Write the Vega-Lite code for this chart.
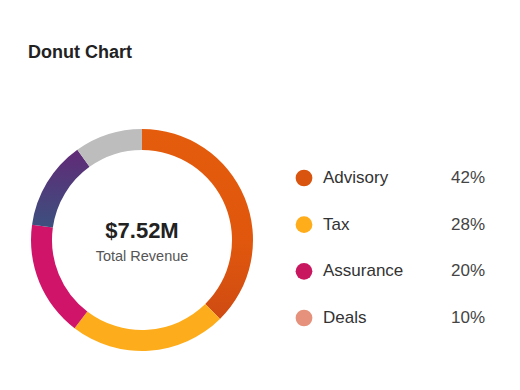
{
  "$schema": "https://vega.github.io/schema/vega-lite/v6.json",
  "background": "white",
  "padding": {"left": 28, "top": 44, "right": 0, "bottom": 0},
  "title": {"text": "Donut Chart", "anchor": "start", "fontSize": 18, "font": "Liberation Sans", "fontWeight": "bold", "color": "#222222", "offset": 64},
  "config": {"view": {"stroke": null}, "font": "Liberation Sans"},
  "resolve": {"scale": {"color": "independent"}},
  "spacing": 39,
  "hconcat": [
    {
      "width": 228,
      "height": 228,
      "layer": [
        {
          "data": {"values": [
            {"segment": "Advisory", "share": 37.6, "rank": 1},
            {"segment": "Tax", "share": 22.8, "rank": 2},
            {"segment": "Assurance", "share": 16.8, "rank": 3},
            {"segment": "Consulting", "share": 12.9, "rank": 4},
            {"segment": "Other", "share": 9.9, "rank": 5}
          ]},
          "mark": {"type": "arc", "outerRadius": 111, "innerRadius": 90},
          "encoding": {
            "theta": {"field": "share", "type": "quantitative", "stack": true},
            "order": {"field": "rank", "type": "quantitative"},
            "color": {
              "condition": [
                {"test": "datum.segment === 'Consulting'", "value": {"gradient": "linear", "x1": 0.5, "y1": 0, "x2": 0.5, "y2": 1, "stops": [{"offset": 0, "color": "#612a77"}, {"offset": 1, "color": "#3c507e"}]}},
                {"test": "datum.segment === 'Advisory'", "value": {"gradient": "linear", "x1": 0.5, "y1": 0, "x2": 0.5, "y2": 1, "stops": [{"offset": 0, "color": "#e45c0c"}, {"offset": 0.6, "color": "#e0570d"}, {"offset": 1, "color": "#cf4b12"}]}}
              ],
              "field": "segment",
              "type": "nominal",
              "scale": {"domain": ["Advisory", "Tax", "Assurance", "Consulting", "Other"], "range": ["#e0570d", "#fdad1b", "#cf1469", "#4d3c7a", "#bdbdbd"]},
              "legend": null
            }
          }
        },
        {
          "data": {"values": [{"label": "$7.52M"}]},
          "mark": {"type": "text", "fontSize": 22, "fontWeight": "bold", "color": "#222222", "dy": -9},
          "encoding": {"text": {"field": "label"}}
        },
        {
          "data": {"values": [{"label": "Total Revenue"}]},
          "mark": {"type": "text", "fontSize": 14.5, "color": "#555555", "dy": 17},
          "encoding": {"text": {"field": "label"}}
        }
      ]
    },
    {
      "width": 190,
      "height": 244,
      "data": {"values": [
        {"category": "Advisory", "pct": "42%"},
        {"category": "Tax", "pct": "28%"},
        {"category": "Assurance", "pct": "20%"},
        {"category": "Deals", "pct": "10%"}
      ]},
      "encoding": {
        "y": {"field": "category", "type": "nominal", "sort": null, "scale": {"type": "band", "paddingInner": 0, "paddingOuter": 0.614}, "axis": null}
      },
      "layer": [
        {
          "mark": {"type": "point", "filled": true, "size": 280, "opacity": 1},
          "encoding": {
            "x": {"datum": 8, "type": "quantitative", "scale": {"domain": [0, 190], "nice": false}, "axis": null},
            "color": {"field": "category", "type": "nominal", "scale": {"domain": ["Advisory", "Tax", "Assurance", "Deals"], "range": ["#d9540e", "#ffad1a", "#c8175f", "#e6917b"]}, "legend": null}
          }
        },
        {
          "mark": {"type": "text", "align": "left", "baseline": "middle", "fontSize": 17, "color": "#333333"},
          "encoding": {
            "x": {"datum": 27, "type": "quantitative"},
            "text": {"field": "category"}
          }
        },
        {
          "mark": {"type": "text", "align": "right", "baseline": "middle", "fontSize": 17, "color": "#444444"},
          "encoding": {
            "x": {"datum": 189, "type": "quantitative"},
            "text": {"field": "pct"}
          }
        }
      ]
    }
  ]
}
